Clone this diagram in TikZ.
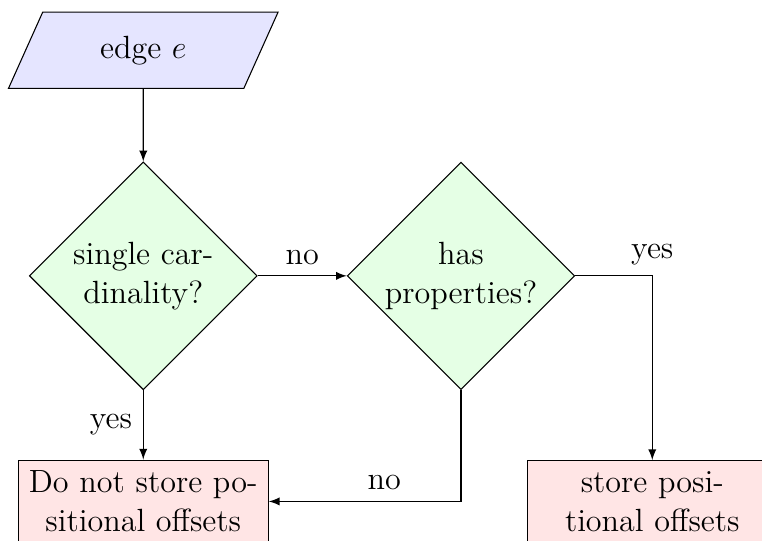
\documentclass[tikz,border=0pt,12pt]{standalone}
\usepackage{amsmath}
\usepackage{tikz}
\usetikzlibrary{shapes.geometric, arrows, positioning}
\tikzstyle{io} = [trapezium, trapezium left angle=70, trapezium right angle=110, trapezium stretches=true, minimum width=3.55cm, minimum height=1cm, text centered, draw=black, fill=blue!10]
\tikzstyle{decision} = [diamond, aspect=1, minimum width=2.98cm, minimum height=2.98cm, inner sep=0pt, text width=2.1cm, text centered, draw=black, fill=green!10]
\tikzstyle{process} = [rectangle, text centered, text width=3cm, draw=black, fill=red!10]
\tikzstyle{arrow} = [->,>=latex]

\begin{document}
\begin{tikzpicture}[node distance=2.96cm]

% Frame
\useasboundingbox (-1.88,0.66) rectangle (8.12,-6.43);

% Nodes
\node (edge) [io] {edge $e$};

\node (single) [decision, below of=edge] {single cardinality?};

\node (props) [decision, right of=single, node distance=4.17cm] {has properties?};

\node (nostore) [process, below of=single] {Do not store positional offsets};

\node (store) [process, below of=props, xshift=2.51cm] {store positional offsets};

% Arrows
\draw [arrow] (edge) -- (single);
\draw [arrow] (single) -- node[anchor=south] {no} (props);
\draw [arrow] (single) -- node[anchor=east] {yes} (nostore);
\draw [arrow] (props) -| node[anchor=south] {yes} (store);
\draw [arrow] (props) |- node[anchor=south, pos=0.7] {no} (nostore);

\end{tikzpicture}
\end{document}
